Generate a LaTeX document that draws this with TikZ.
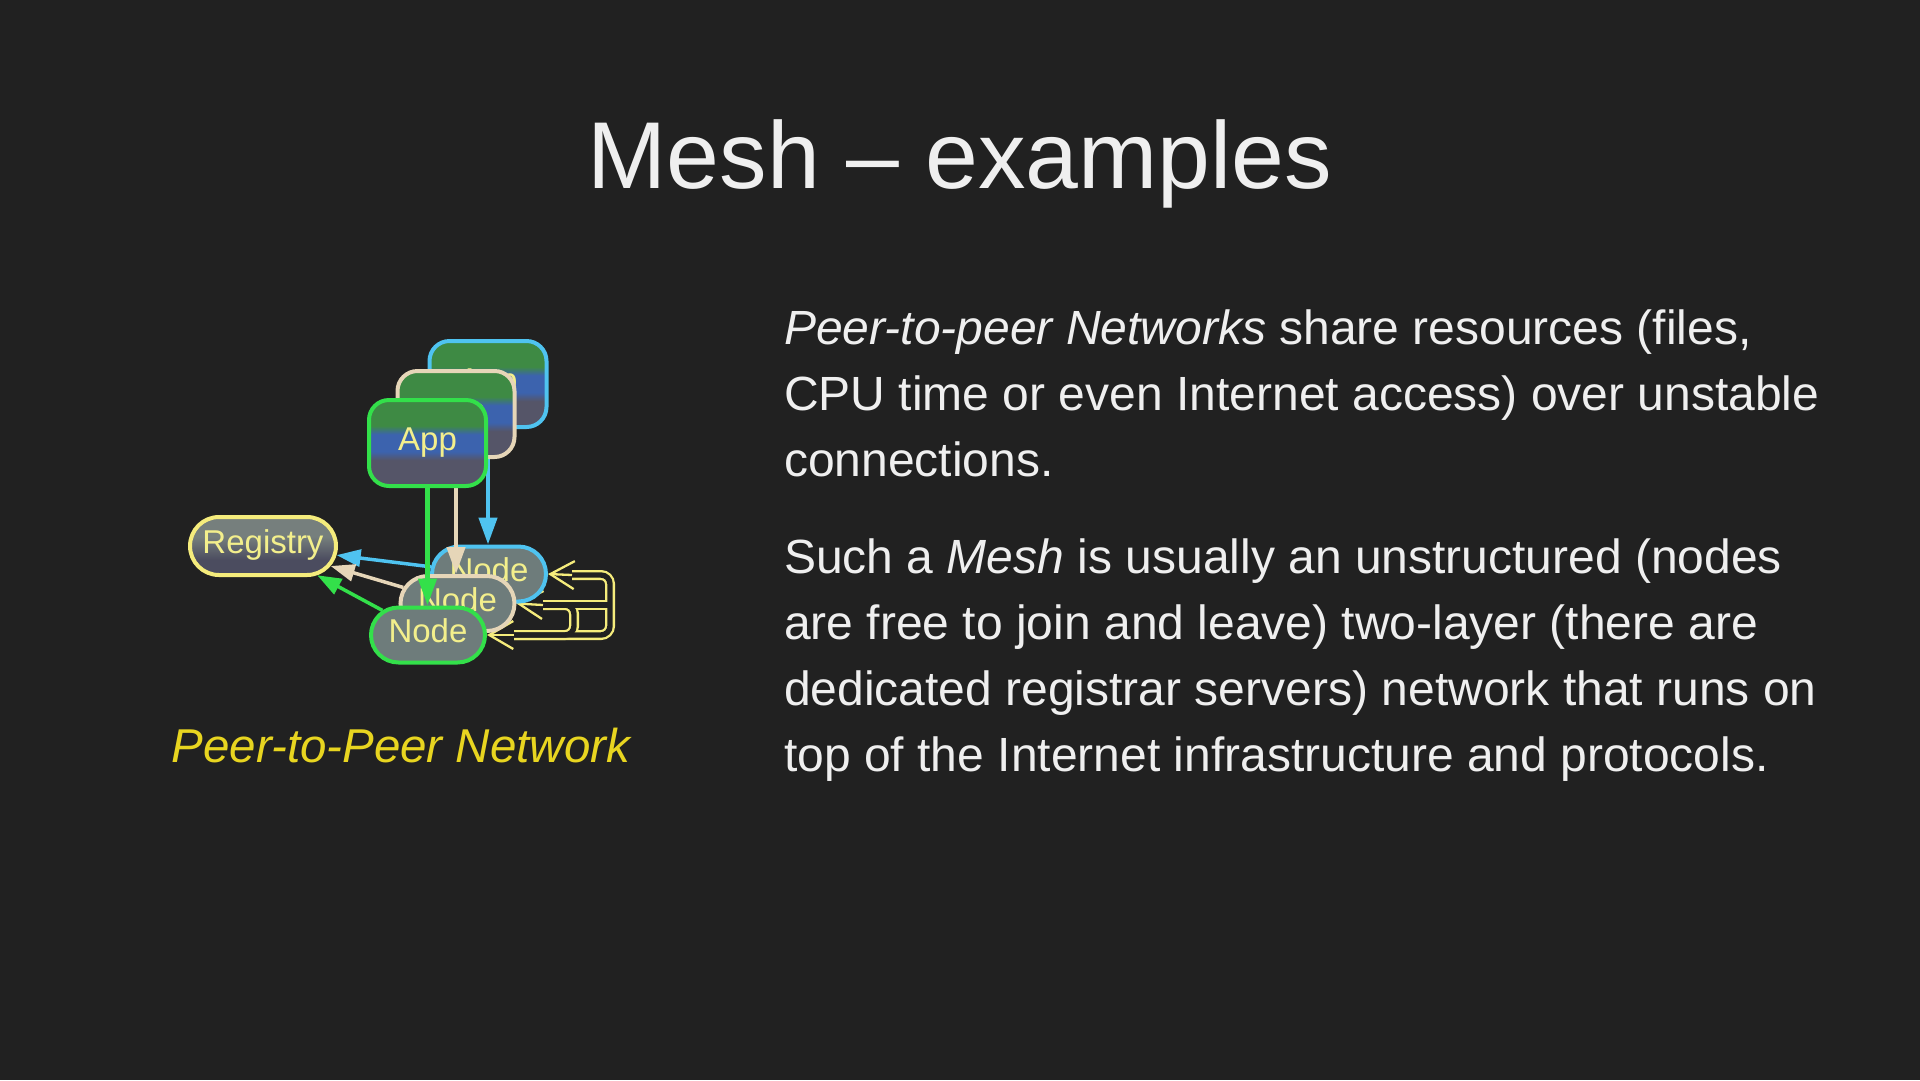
\documentclass[tikz,border=0pt]{standalone}
\usepackage{fontspec}
\setmainfont{Liberation Sans}
\usetikzlibrary{arrows.meta,shapes.misc}
\definecolor{bg}{HTML}{212121}
\definecolor{txt}{HTML}{EFEFEF}
\definecolor{captxt}{HTML}{E8D520}
\definecolor{nodetxt}{HTML}{F3EF8C}
\definecolor{cgreen}{HTML}{33E04A}
\definecolor{cbeige}{HTML}{E6D6B8}
\definecolor{cblue}{HTML}{4FC3F0}
\definecolor{cyell}{HTML}{F5EC7C}
\definecolor{nodefill}{HTML}{6E7C7B}
\definecolor{appgreen}{HTML}{3E8A44}
\definecolor{appblue}{HTML}{3C63AE}
\definecolor{appgray}{HTML}{555568}
\definecolor{regtop}{HTML}{767F7D}
\definecolor{regbot}{HTML}{4B4C5F}
\pgfdeclareverticalshading{appshade}{100bp}{color(0bp)=(appgray); color(40bp)=(appgray); color(45bp)=(appblue); color(55bp)=(appblue); color(60bp)=(appgreen); color(100bp)=(appgreen)}
\pgfdeclareverticalshading{regshade}{100bp}{color(0bp)=(regbot); color(38bp)=(regbot); color(58bp)=(regtop); color(100bp)=(regtop)}
\pgfdeclarelayer{backdrop}
\pgfdeclarelayer{edges}
\pgfsetlayers{backdrop,edges,main}
\begin{document}
\begin{tikzpicture}[x=1pt,y=-1pt,
  lbl/.style={text=nodetxt,font=\fontsize{33}{33}\selectfont,text height=23pt,text depth=8pt,inner sep=0pt},
  appbox/.style={lbl,rectangle,rounded corners=20pt,minimum width=117pt,minimum height=86pt,shade,shading=appshade,line width=4pt},
  meshnode/.style={lbl,rounded rectangle,minimum width=114pt,minimum height=55pt,fill=nodefill,line width=4pt},
  regnode/.style={lbl,rounded rectangle,minimum width=146pt,minimum height=58pt,shade,shading=regshade,draw=cyell,line width=4pt},
  carrow/.style={line width=4.5pt,-{Triangle[length=27pt,width=18pt]}},
  rarrow/.style={line width=3.5pt,-{Triangle[length=24pt,width=17pt]}},
  yarr/.style={cyell,line width=2.3pt,-{Straight Barb[length=24pt,width=28pt]}},
  ytube/.style={cyell,line width=10pt,rounded corners=9pt},
  yinner/.style={bg,line width=5.4pt,rounded corners=9pt},
  bodyline/.style={anchor=base west,inner sep=0pt,text=txt,font=\fontsize{48}{48}\selectfont}
]
\begin{pgfonlayer}{backdrop}
\fill[bg] (0,0) rectangle (1920,1080);
\end{pgfonlayer}
\useasboundingbox (0,0) rectangle (1920,1080);

% title
\node[anchor=base,inner sep=0pt,text=txt,font=\fontsize{95}{95}\selectfont] (title) at (960,188) {Mesh – examples};

% body text
\node[bodyline] (l1) at (784,344) {\textit{Peer-to-peer Networks} share resources (files,};
\node[bodyline] (l2) at (784,410) {CPU time or even Internet access) over unstable};
\node[bodyline] (l3) at (784,476) {connections.};
\node[bodyline] (l4) at (784,573) {Such a \textit{Mesh} is usually an unstructured (nodes};
\node[bodyline] (l5) at (784,639) {are free to join and leave) two-layer (there are};
\node[bodyline] (l6) at (784,705) {dedicated registrar servers) network that runs on};
\node[bodyline] (l7) at (784,771) {top of the Internet infrastructure and protocols.};

% caption
\node[anchor=base,inner sep=0pt,text=captxt,font=\fontsize{47.5}{48}\selectfont\itshape] (cap) at (401,762) {Peer-to-Peer Network};

% nodes
\node[regnode] (reg) at (263,546) {Registry};
\node[meshnode,draw=cblue] (nb) at (489,574) {Node};
\node[meshnode,draw=cbeige] (ne) at (457.5,603.5) {Node};
\node[meshnode,draw=cgreen] (ng) at (428,635) {Node};

\node[appbox,draw=cblue] (ab) at (488,384) {App};
\draw[carrow,cblue] (ab.south) -- (ab.south |- nb.north);
\node[appbox,draw=cbeige] (ae) at (456,414) {App};
\draw[carrow,cbeige] (ae.south) -- (ae.south |- ne.north);
\node[appbox,draw=cgreen] (ag) at (427.5,443) {App};
\draw[carrow,cgreen] (ag.south) -- (ag.south |- ng.north);

\begin{pgfonlayer}{edges}
  \draw[rarrow,cblue] (nb) -- (reg);
  \draw[rarrow,cbeige] (ne) -- (reg);
  \draw[rarrow,cgreen] (ng) -- (reg);
  \coordinate (ya) at (572,575);
  \coordinate (yb) at (543,605);
  \coordinate (yc) at (514,635);
  \coordinate (ra) at (610,575);
  \coordinate (rb) at (610,605);
  \coordinate (rc) at (610,635);
  \coordinate (mb) at (574,605);
  \coordinate (mc) at (574,635);
  \draw[ytube] (ya) -- (ra) -- (rc) -- (yc);
  \draw[ytube] (yb) -- (rb);
  \draw[ytube] (yb) -- (mb) -- (mc) -- (yc);
  \draw[yinner] (ya) -- (ra) -- (rc) -- (yc);
  \draw[yinner] (yb) -- (rb);
  \draw[yinner] (yb) -- (mb) -- (mc) -- (yc);
  \draw[yarr] (ya) -- (nb.east);
  \draw[yarr] (yb) -- (ne.east);
  \draw[yarr] (yc) -- (ng.east);
\end{pgfonlayer}
\end{tikzpicture}
\end{document}
